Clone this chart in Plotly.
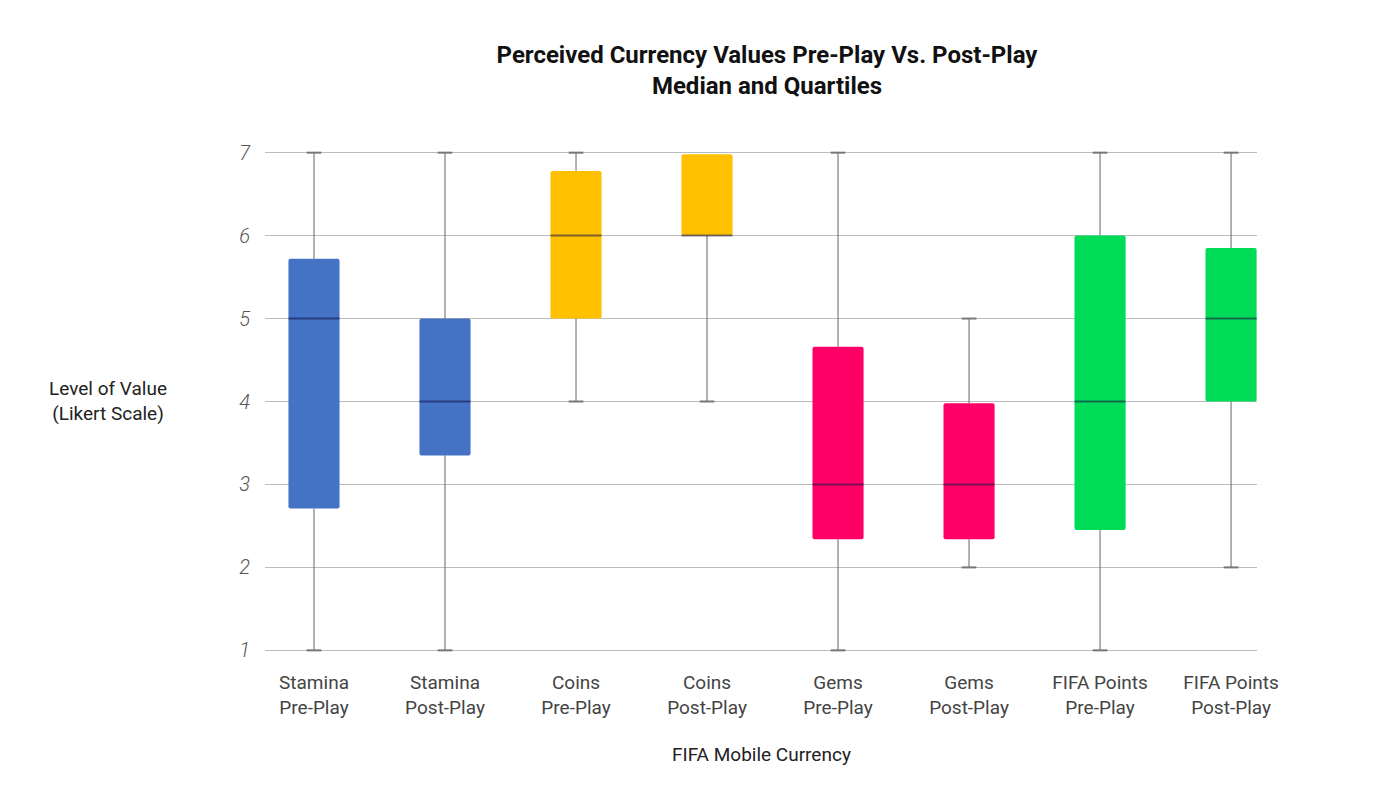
import plotly.graph_objects as go

categories = ["Stamina<br>Pre-Play", "Stamina<br>Post-Play", "Coins<br>Pre-Play", "Coins<br>Post-Play",
              "Gems<br>Pre-Play", "Gems<br>Post-Play", "FIFA Points<br>Pre-Play", "FIFA Points<br>Post-Play"]
mins = [1, 1, 4, 4, 1, 2, 1, 2]
q1 = [2.71, 3.35, 5.0, 6.0, 2.34, 2.34, 2.45, 4.0]
medians = [5, 4, 6, 6, 3, 3, 4, 5]
q3 = [5.72, 5.0, 6.78, 6.98, 4.66, 3.98, 6.0, 5.85]
maxs = [7, 7, 7, 6.98, 7, 5, 7, 7]
colors = ["#4472C4", "#4472C4", "#FFC000", "#FFC000", "#FF0066", "#FF0066", "#00DB58", "#00DB58"]

fig = go.Figure()

# boxes
fig.add_trace(go.Bar(x=categories, y=[b - a for a, b in zip(q1, q3)], base=q1,
                     marker=dict(color=colors, line=dict(width=0), cornerradius=2),
                     width=0.39, hoverinfo="skip", showlegend=False))

# whiskers
wx, wy = [], []
for c, lo, a, b, hi in zip(categories, mins, q1, q3, maxs):
    if hi > b:
        wx += [c, c, None]; wy += [b, hi, None]
    if lo < a:
        wx += [c, c, None]; wy += [a, lo, None]
fig.add_trace(go.Scatter(x=wx, y=wy, mode="lines", line=dict(color="#666666", width=1),
                         hoverinfo="skip", showlegend=False))

# caps
cx, cy = [], []
for c, lo, a, b, hi in zip(categories, mins, q1, q3, maxs):
    if hi > b:
        cx.append(c); cy.append(hi)
    if lo < a:
        cx.append(c); cy.append(lo)
fig.add_trace(go.Scatter(x=cx, y=cy, mode="markers",
                         marker=dict(symbol="line-ew", size=10.5, line=dict(color="#777777", width=2)),
                         hoverinfo="skip", showlegend=False))

# medians
fig.add_trace(go.Scatter(x=categories, y=medians, mode="markers",
                         marker=dict(symbol="line-ew", size=36.5, line=dict(color="rgba(20,20,70,0.55)", width=2)),
                         hoverinfo="skip", showlegend=False))

L, R, T, B = 265, 143, 151, 148
pw = 1400 - L - R
ph = 800 - T - B

fig.update_layout(
    width=1400, height=800,
    margin=dict(l=L, r=R, t=T, b=B),
    plot_bgcolor="white", paper_bgcolor="white",
    font=dict(family="Roboto", color="#333333"),
    title=dict(text="<b>Perceived Currency Values Pre-Play Vs. Post-Play<br>Median and Quartiles</b>",
               x=767 / 1400, xanchor="center", y=1 - 63 / 800, yanchor="top", yref="container",
               font=dict(family="Roboto", size=24, color="#111111")),
    xaxis=dict(type="category", range=[-0.374, 7.198], showgrid=False, zeroline=False,
               ticks="outside", ticklen=13, tickcolor="rgba(0,0,0,0)",
               tickfont=dict(family="Roboto", size=19, color="#444444"), showline=False),
    yaxis=dict(range=[0.98, 7.02], tickvals=[1, 2, 3, 4, 5, 6, 7], showgrid=True,
               gridcolor="#BBBBBB", gridwidth=1, zeroline=False, showline=False,
               ticks="outside", ticklen=10, tickcolor="rgba(0,0,0,0)",
               tickfont=dict(family="Roboto", size=20, color="#555555", style="italic", weight=300)),
    annotations=[
        dict(text="Level of Value<br>(Likert Scale)", x=(108 - L) / pw, y=(800 - B - 401) / ph,
             xref="paper", yref="paper", xanchor="center", yanchor="middle",
             showarrow=False, font=dict(family="Roboto", size=19, color="#222222")),
        dict(text="FIFA Mobile Currency", x=(761 - L) / pw, y=(800 - B - 755) / ph,
             xref="paper", yref="paper", xanchor="center", yanchor="middle",
             showarrow=False, font=dict(family="Roboto", size=19, color="#222222")),
    ],
)

fig.write_html("out.html")
